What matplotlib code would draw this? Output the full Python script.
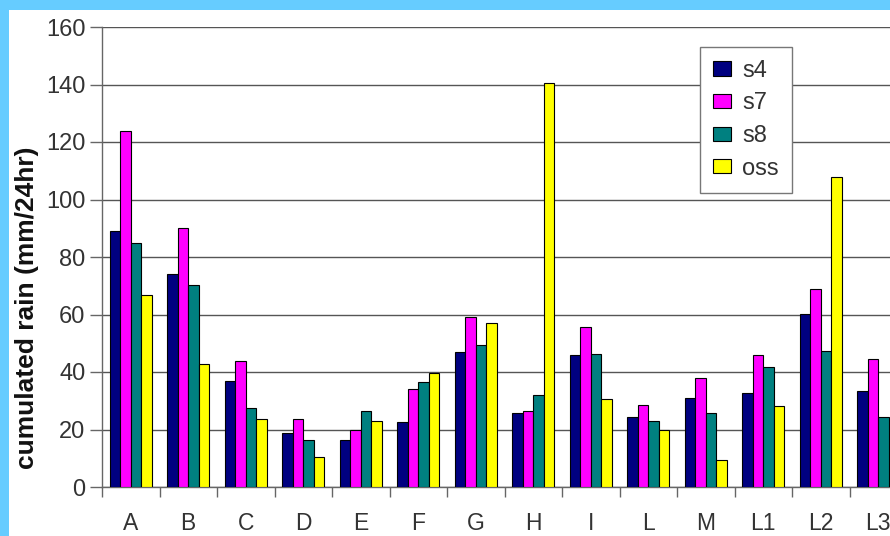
import numpy as np
import matplotlib
matplotlib.use("Agg")
import matplotlib.pyplot as plt
from matplotlib.patches import Rectangle

# Stations and rainfall totals per model run / observation
stations = ["A", "B", "C", "D", "E", "F", "G", "H", "I", "L", "M", "L1", "L2", "L3"]
s4 = [89, 74, 37, 18.7, 16.3, 22.7, 47, 25.6, 46, 24.2, 31, 32.8, 60.2, 33.5]
s7 = [124, 90, 44, 23.7, 19.8, 34.2, 59.2, 26.4, 55.6, 28.6, 37.8, 46, 69, 44.5]
s8 = [85, 70.3, 27.6, 16.3, 26.4, 36.4, 49.4, 32, 46.1, 23.1, 25.9, 41.8, 47.3, 24.3]
oss = [66.8, 42.7, 23.7, 10.5, 23, 39.8, 57, 140.5, 30.6, 20, 9.5, 28.3, 107.8, np.nan]

series = [("s4", s4, "#000080"), ("s7", s7, "#FF00FF"),
          ("s8", s8, "#008080"), ("oss", oss, "#FFFF00")]

plt.rcParams["font.family"] = ["Liberation Sans", "DejaVu Sans"]

fig = plt.figure(figsize=(8.9, 5.36), dpi=100, facecolor="#66CCFF")
# white panel inside the blue frame
fig.patches.append(Rectangle((9 / 890, 0), 1, (536 - 10) / 536,
                             transform=fig.transFigure, facecolor="white",
                             edgecolor="none", zorder=-5))

ax = fig.add_axes([102 / 890, 49 / 536, 805 / 890, 460 / 536])
ax.set_facecolor("none")

x = np.arange(len(stations))
w = 0.183
for i, (name, vals, col) in enumerate(series):
    ax.bar(x + (i - 1.5) * w, vals, width=w, color=col, edgecolor="black",
           linewidth=0.8, label=name, zorder=3)

ax.set_xlim(-0.5, len(stations) - 0.5)
ax.set_ylim(0, 160)
ax.set_yticks(np.arange(0, 161, 20))
ax.yaxis.grid(True, color="#555555", linewidth=1.0, zorder=1)
ax.set_axisbelow(True)

ax.set_xticks(x)
ax.set_xticklabels(stations)
ax.set_xticks(np.arange(-0.5, len(stations), 1), minor=True)
ax.tick_params(axis="x", which="major", length=0, pad=18,
               labelsize=16.5, labelcolor="#333333")
ax.tick_params(axis="x", which="minor", length=7, color="#666666", width=1)
ax.tick_params(axis="y", length=9, color="#666666", width=1, pad=3,
               labelsize=17, labelcolor="#333333")

for side in ("top", "right"):
    ax.spines[side].set_visible(False)
for side in ("left", "bottom"):
    ax.spines[side].set_color("#666666")
    ax.spines[side].set_linewidth(1)

ax.set_ylabel("cumulated rain (mm/24hr)", fontsize=19, fontweight="bold",
              color="#111111")
ax.yaxis.set_label_coords(-0.078, 0.39)

leg = ax.legend(loc="upper left", bbox_to_anchor=(0.743, 0.957),
                fontsize=17, frameon=True, fancybox=False, framealpha=1,
                edgecolor="#777777", handlelength=0.74, handleheight=0.55,
                handletextpad=0.5, labelspacing=0.45, borderpad=0.55,
                borderaxespad=0)
leg.get_frame().set_linewidth(1)
for t in leg.get_texts():
    t.set_color("#333333")

fig.savefig("out.png", dpi=100, facecolor=fig.get_facecolor())
